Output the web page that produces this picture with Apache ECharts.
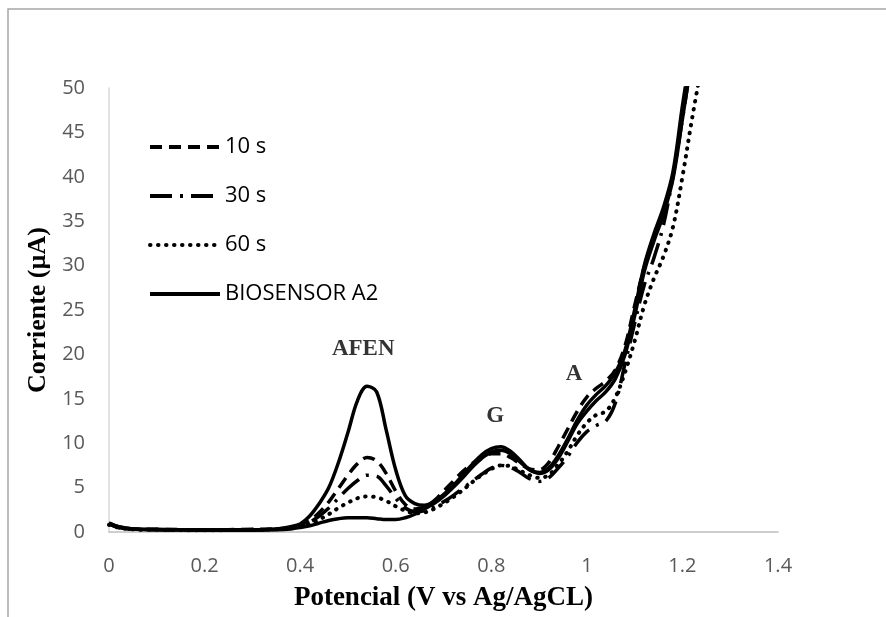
<!DOCTYPE html>
<html>
<head>
<meta charset="utf-8">
<script src="https://cdn.jsdelivr.net/npm/echarts@6/dist/echarts.min.js"></script>
<style>
  html, body { margin: 0; padding: 0; background: #ffffff; }
  #chart { width: 886px; height: 617px; }
</style>
</head>
<body>
<div id="chart"></div>
<script>
// Potential (V vs Ag/AgCl) sampled along each voltammogram
const potential = [0, 0.02, 0.05, 0.1, 0.2, 0.3, 0.35, 0.38,
  0.40, 0.42, 0.44, 0.46, 0.48, 0.50, 0.52, 0.54, 0.56, 0.58,
  0.60, 0.62, 0.64, 0.66, 0.68, 0.70, 0.72, 0.74, 0.76, 0.78,
  0.80, 0.82, 0.84, 0.86, 0.88, 0.90, 0.92, 0.94, 0.96, 0.98,
  1.00, 1.02, 1.04, 1.06, 1.08, 1.10, 1.12, 1.14, 1.16, 1.18,
  1.20, 1.22, 1.24];

// Current (µA) for each curve
const current0s = [1.0, 0.6, 0.35, 0.3, 0.25, 0.25, 0.35, 0.6,
  0.9, 1.8, 3.2, 5.0, 7.8, 11.2, 14.8, 16.4, 15.8, 11.5,
  7.0, 4.1, 3.2, 3.0, 3.4, 4.2, 5.2, 6.4, 7.6, 8.7,
  9.4, 9.6, 9.1, 8.1, 7.0, 6.7, 7.2, 8.6, 10.5, 12.6,
  14.3, 15.5, 16.5, 18.0, 20.5, 25.0, 30.0, 33.5, 36.5, 40.5,
  48.0, 55.0, 62.0];

const current10s = [0.9, 0.5, 0.35, 0.3, 0.25, 0.3, 0.35, 0.5,
  0.8, 1.3, 2.2, 3.4, 4.9, 6.4, 7.7, 8.4, 8.0, 6.6,
  4.6, 3.1, 2.6, 2.8, 3.5, 4.6, 5.7, 6.8, 7.7, 8.4,
  8.8, 8.8, 8.4, 7.7, 7.1, 7.0, 7.8, 9.6, 11.6, 13.6,
  15.2, 16.2, 17.0, 18.3, 21.0, 25.5, 29.8, 33.0, 36.0, 40.0,
  47.0, 54.0, 61.0];

const current30s = [0.9, 0.5, 0.3, 0.25, 0.2, 0.25, 0.3, 0.45,
  0.7, 1.1, 1.8, 2.7, 3.8, 4.9, 5.8, 6.4, 6.3, 5.2,
  3.8, 2.7, 2.3, 2.4, 2.8, 3.4, 4.1, 4.9, 5.7, 6.5,
  7.2, 7.5, 7.3, 6.7, 6.0, 5.7, 6.1, 7.2, 8.5, 10.1,
  11.3, 12.0, 12.5, 14.6, 19.0, 23.5, 27.8, 30.8, 34.5, 40.0,
  46.5, 53.5, 60.0];

const current60s = [0.8, 0.5, 0.3, 0.25, 0.2, 0.25, 0.3, 0.4,
  0.6, 0.9, 1.4, 2.0, 2.7, 3.3, 3.8, 4.0, 3.9, 3.5,
  2.9, 2.4, 2.1, 2.2, 2.6, 3.2, 3.9, 4.7, 5.6, 6.4,
  7.1, 7.5, 7.4, 6.9, 6.4, 6.1, 6.4, 7.6, 9.1, 10.9,
  12.3, 13.2, 13.6, 15.2, 18.0, 21.5, 25.5, 28.5, 31.0, 34.3,
  40.0, 46.5, 52.5];

const currentBiosensor = [1.0, 0.6, 0.35, 0.25, 0.2, 0.2, 0.25, 0.35,
  0.5, 0.7, 1.0, 1.3, 1.5, 1.6, 1.6, 1.6, 1.5, 1.4,
  1.4, 1.6, 2.0, 2.6, 3.2, 4.0, 5.0, 6.1, 7.3, 8.3,
  9.0, 9.2, 8.8, 7.9, 7.0, 6.6, 7.0, 8.3, 10.2, 12.2,
  13.6, 14.8, 15.8, 17.3, 20.0, 24.3, 29.3, 32.7, 35.7, 39.7,
  46.5, 53.5, 60.5];

// Peak annotations: [label, potential, current]
const peakLabels = ['AFEN', 'G', 'A'];
const peakX = [0.532, 0.808, 0.973];
const peakY = [20.6, 13.0, 17.8];

const xTicks = { min: 0, max: 1.4, interval: 0.2 };
const yTicks = { min: 0, max: 50, interval: 5 };

const pairs = (ys) => potential.map((x, i) => [x, ys[i]]);

const tickFont = { fontFamily: 'Open Sans', fontSize: 20, color: '#595959' };
const titleFont = { fontFamily: 'Liberation Serif', fontWeight: 'bold', fontSize: 27, color: '#000000' };

const chart = echarts.init(document.getElementById('chart'), null, { renderer: 'canvas' });

function lineSeries(name, ys, lineStyle) {
  return {
    name: name,
    type: 'line',
    data: pairs(ys),
    smooth: 0.35,
    symbol: 'none',
    silent: true,
    lineStyle: Object.assign({ color: '#000000', width: 3.5 }, lineStyle),
    itemStyle: { color: '#000000' }
  };
}

const option = {
  backgroundColor: '#ffffff',
  animation: false,
  grid: { left: 109, right: 108, top: 88, bottom: 85, containLabel: false },
  graphic: [{
    type: 'rect',
    shape: { x: 8, y: 9, width: 1000, height: 800 },
    style: { fill: 'none', stroke: '#a6a6a6', lineWidth: 1.5 },
    silent: true,
    z: -1
  }],
  legend: {
    data: ['10 s', '30 s', '60 s', 'BIOSENSOR A2'],
    orient: 'vertical',
    left: 143,
    top: 131,
    itemWidth: 70,
    itemHeight: 22,
    itemGap: 27,
    itemStyle: { opacity: 0 },
    lineStyle: { width: 4 },
    textStyle: { fontFamily: 'Open Sans', fontSize: 22, color: '#000000', lineHeight: 22 },
    selectedMode: false
  },
  xAxis: {
    type: 'value',
    min: xTicks.min, max: xTicks.max, interval: xTicks.interval,
    name: 'Potencial (V vs Ag/AgCL)',
    nameLocation: 'middle',
    nameGap: 53,
    nameTextStyle: titleFont,
    axisLine: { show: true, onZero: false, lineStyle: { color: '#bfbfbf', width: 1.5 } },
    axisTick: { show: false },
    splitLine: { show: false },
    axisLabel: Object.assign({ margin: 24 }, tickFont)
  },
  yAxis: {
    type: 'value',
    min: yTicks.min, max: yTicks.max, interval: yTicks.interval,
    name: 'Corriente (µA)',
    nameLocation: 'middle',
    nameGap: 56,
    nameTextStyle: Object.assign({}, titleFont, { fontSize: 26 }),
    axisLine: { show: true, lineStyle: { color: '#d9d9d9', width: 1.5 } },
    axisTick: { show: false },
    splitLine: { show: false },
    axisLabel: Object.assign({ margin: 24 }, tickFont)
  },
  series: [
    lineSeries('0 s', current0s, { type: 'solid' }),
    lineSeries('10 s', current10s, { type: [12, 7] }),
    lineSeries('30 s', current30s, { type: [22, 8, 3, 8] }),
    lineSeries('60 s', current60s, { type: [0.5, 7.5], cap: 'round', width: 4 }),
    lineSeries('BIOSENSOR A2', currentBiosensor, { type: 'solid' }),
    {
      name: 'picos',
      type: 'scatter',
      data: peakLabels.map((t, i) => ({ value: [peakX[i], peakY[i]], label: { formatter: t } })),
      symbolSize: 0,
      silent: true,
      label: {
        show: true,
        position: 'inside',
        fontFamily: 'Liberation Serif',
        fontWeight: 'bold',
        fontSize: 23,
        color: '#000000'
      }
    }
  ]
};

chart.setOption(option);
</script>
</body>
</html>
